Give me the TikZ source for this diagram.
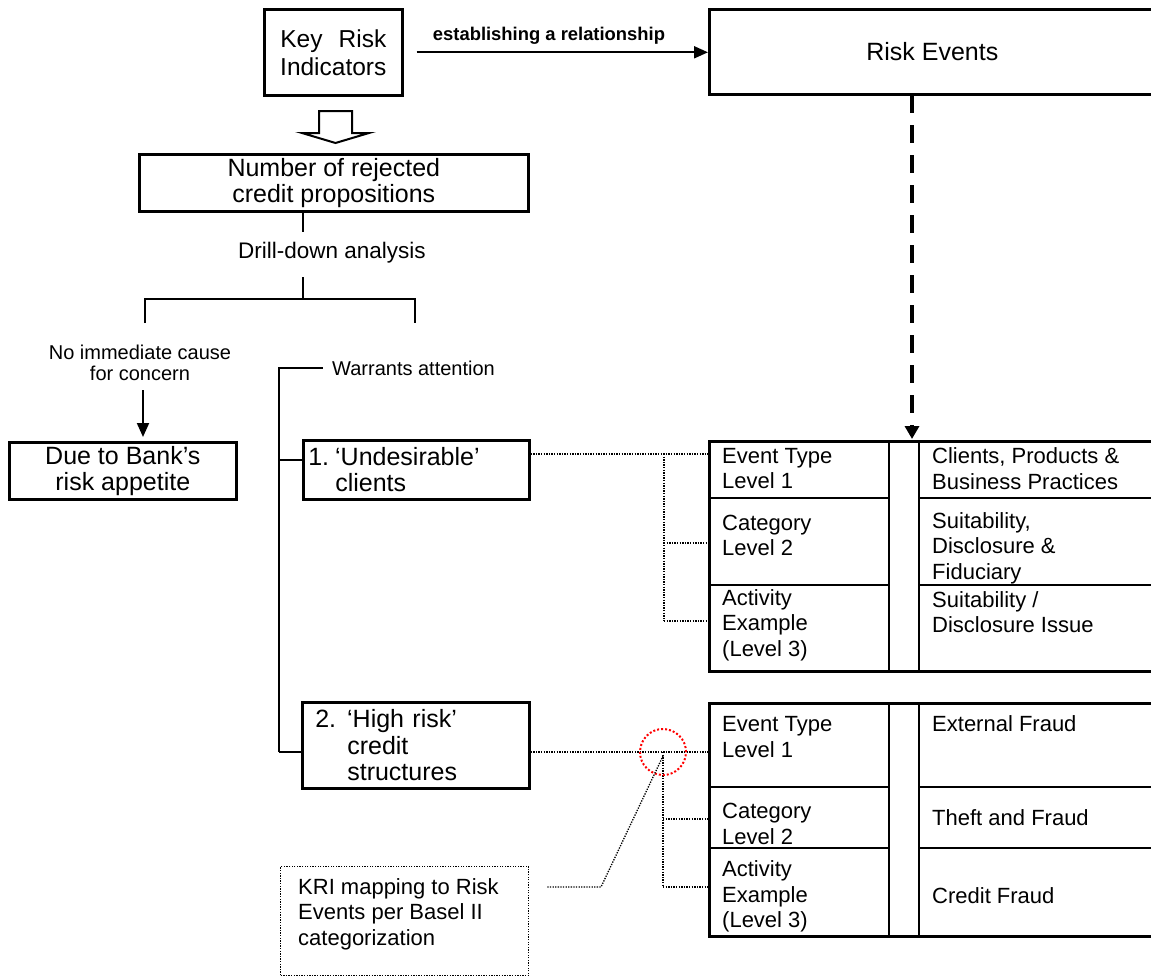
\documentclass[tikz,border=0pt]{standalone}
\usepackage{fontspec}
\setmainfont{Liberation Sans}
\usetikzlibrary{arrows.meta}
\newcommand\fmain{\fontsize{25}{26.5}\selectfont}
\newcommand\fkri{\fontsize{24.5}{28}\selectfont}
\newcommand\fdrill{\fontsize{22.5}{25}\selectfont}
\newcommand\fsmall{\fontsize{20}{21}\selectfont}
\newcommand\ftab{\fontsize{22}{25.5}\selectfont}
\newcommand\fbold{\fontsize{18.4}{20}\selectfont\bfseries}
\begin{document}
\begin{tikzpicture}[x=1pt,y=-1pt,
  box/.style={draw,line width=2.6pt,inner sep=0pt},
  conn/.style={line width=2.6pt},
  arr/.style={line width=2pt,-{Triangle[length=14pt,width=12pt]}},
  dotl/.style={line width=1.3pt,dash pattern=on 1.3pt off 1.3pt},
  lbl/.style={inner sep=0pt},
]
\useasboundingbox (0,0) rectangle (1151,977);
\clip (0,0) rectangle (1151,977);

% top row
\node[box, minimum width=138, minimum height=86, anchor=north west, align=center, font=\fkri] (kri) at (263,8) {\makebox[106pt][s]{Key Risk}\\Indicators};
\node[box, minimum width=446, minimum height=85, anchor=north west, font=\fmain] (re) at (708,8) {Risk Events};
\draw[arr] ([xshift=13pt]kri.east) -- (re.west |- kri.east);
\node[lbl, font=\fbold] (estab) at (549,36) {establishing a relationship};

% hollow arrow
\draw[line width=2pt, fill=white] (319,111) -- (352,111) -- (352,133) -- (369,133) -- (335.5,143) -- (302,133) -- (319,133) -- cycle;

% number box and drill down
\node[box, minimum width=389, minimum height=57, anchor=north west, align=center, font=\fmain] (num) at (138,153) {Number of rejected\\credit propositions};
\node[lbl, font=\fdrill] (drill) at (332,253) {Drill-down analysis};
\coordinate (stem) at (303,0);
\draw[conn] (num.south -| stem) -- (303,232);
\draw[conn] (303,277) -- (303,299);
\draw[conn] (145,323) -- (145,299) -- (415,299) -- (415,323);

% left branch
\node[lbl, font=\fsmall, align=center] (noimm) at (140,362.5) {No immediate cause\\for concern};
\node[box, minimum width=227, minimum height=57, anchor=north west, align=center, font=\fmain] (due) at (8,441) {Due to Bank’s\\risk appetite};
\draw[arr] (143,390) -- (143,437);

% right branch
\node[lbl, font=\fsmall, anchor=west] (warr) at (332,368) {Warrants attention};
\node[box, minimum width=226, minimum height=59, anchor=north west, inner xsep=5pt, text width=216pt, align=left, font=\fmain] (und) at (302,439) {1.\hspace{6pt}‘Undesirable’\\\hspace*{27pt}clients};
\node[box, minimum width=227, minimum height=86, anchor=north west, inner xsep=13pt, text width=201pt, align=left, font=\fmain] (high) at (301,701) {2.\hspace{11pt}‘High risk’\\\hspace*{32pt}credit\\\hspace*{32pt}structures};
\draw[conn] (279,752) -- (279,368) -- (323,368);
\draw[conn] (279,460) -- (und.west |- 0,460);
\draw[conn] (279,752) -- (high.west |- 0,752);

% dashed arrow
\draw[line width=4pt, dash pattern=on 18pt off 12pt, -{Triangle[length=13pt,width=14pt]}] (912,95) -- (912,439);

% table 1
\node[box, minimum width=447, minimum height=230, anchor=north west] (T1) at (708,440) {};
\draw[conn] (889,440) -- (889,670);
\draw[conn] (919,440) -- (919,670);
\draw[conn] (708,498) -- (889,498);
\draw[conn] (919,498) -- (1155,498);
\draw[conn] (708,585) -- (889,585);
\draw[conn] (919,585) -- (1155,585);
\node[lbl, font=\ftab, anchor=west, align=left] (a1) at (722,468.5) {Event Type\\Level 1};
\node[lbl, font=\ftab, anchor=west, align=left] (a2) at (722,535.5) {Category\\Level 2};
\node[lbl, font=\ftab, anchor=west, align=left] (a3) at (722,625) {Activity\\Example\\(Level 3)};
\node[lbl, font=\ftab, anchor=west, align=left] (b1) at (932,468.5) {Clients, Products \&\\Business Practices};
\node[lbl, font=\ftab, anchor=west, align=left] (b2) at (932,548) {Suitability,\\Disclosure \&\\Fiduciary};
\node[lbl, font=\ftab, anchor=west, align=left] (b3) at (932,612) {Suitability /\\Disclosure Issue};

% table 2
\node[box, minimum width=447, minimum height=233, anchor=north west] (T2) at (708,702) {};
\draw[conn] (889,702) -- (889,935);
\draw[conn] (919,702) -- (919,935);
\draw[conn] (708,787) -- (889,787);
\draw[conn] (919,787) -- (1155,787);
\draw[conn] (708,848) -- (889,848);
\draw[conn] (919,848) -- (1155,848);
\node[lbl, font=\ftab, anchor=west, align=left] (c1) at (722,737) {Event Type\\Level 1};
\node[lbl, font=\ftab, anchor=west, align=left] (c2) at (722,824) {Category\\Level 2};
\node[lbl, font=\ftab, anchor=west, align=left] (c3) at (722,896.5) {Activity\\Example\\(Level 3)};
\node[lbl, font=\ftab, anchor=west] (d1) at (932,724) {External Fraud};
\node[lbl, font=\ftab, anchor=west] (d2) at (932,818) {Theft and Fraud};
\node[lbl, font=\ftab, anchor=west] (d3) at (932,896) {Credit Fraud};

% dotted mappings
\draw[dotl] (und.east |- 0,454) -- (T1.west |- 0,454);
\draw[dotl] (664,454) -- (664,621);
\draw[dotl] (664,543) -- (T1.west |- 0,543);
\draw[dotl] (664,621) -- (T1.west |- 0,621);
\draw[dotl] (high.east |- 0,752) -- (T2.west |- 0,752);
\draw[dotl] (663,752) -- (663,887);
\draw[dotl] (663,819) -- (T2.west |- 0,819);
\draw[dotl] (663,887) -- (T2.west |- 0,887);

% red circle
\node[draw=red, circle, minimum size=46, line width=2pt, dash pattern=on 2pt off 2pt, inner sep=0pt] (circ) at (663,752) {};

% callout
\node[dotl, draw, minimum width=248, minimum height=109, anchor=north west] (call) at (280,866) {};
\node[lbl, font=\ftab, anchor=west, align=left] (calltxt) at (298,914) {KRI mapping to Risk\\Events per Basel II\\categorization};
\coordinate (bend) at (601,887);
\draw[dotl] ([xshift=18pt]call.east |- bend) -- (bend) -- (663,756);
\end{tikzpicture}
\end{document}
